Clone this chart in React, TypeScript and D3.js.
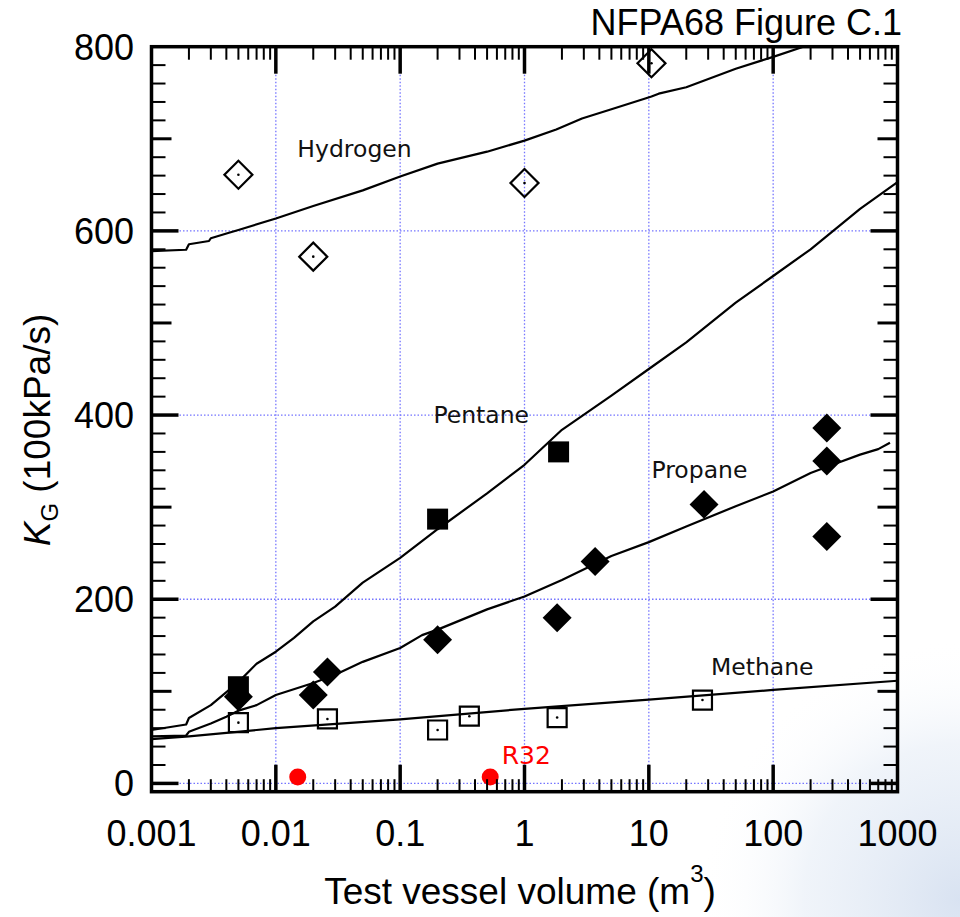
import React from "react";
import * as d3 from "d3";

// ---- Data ----
const xTickValues = [0.001, 0.01, 0.1, 1, 10, 100, 1000];
const xTickLabels = ["0.001", "0.01", "0.1", "1", "10", "100", "1000"];
const yTickValues = [0, 200, 400, 600, 800];
const yTickLabels = ["0", "200", "400", "600", "800"];

// Fitted curves
const hydrogenLineX = [0.001, 0.0019, 0.002, 0.0029, 0.003, 0.0042, 0.005, 0.01, 0.02, 0.05, 0.1, 0.2, 0.5, 1, 1.8, 2.9, 5, 9.5, 10.5, 12, 20, 50, 100, 175];
const hydrogenLineY = [578, 579.5, 585.5, 589, 592, 598, 601, 613.5, 627, 644, 659, 673, 686, 698, 710, 722, 732, 744, 746, 749, 756, 776, 789, 800];

const pentaneLineX = [0.001, 0.0019, 0.002, 0.003, 0.005, 0.007, 0.01, 0.014, 0.02, 0.03, 0.05, 0.1, 0.2, 0.5, 1, 2, 5, 10, 20, 50, 100, 200, 500, 1000];
const pentaneLineY = [58, 64, 71, 85, 110, 130, 143, 158, 176, 192, 218, 245, 276, 315, 346, 384, 421, 450, 479, 522, 551, 580, 624, 653];

const propaneLineX = [0.001, 0.0019, 0.002, 0.003, 0.004, 0.005, 0.007, 0.01, 0.02, 0.03, 0.05, 0.1, 0.15, 0.2, 0.5, 1, 2, 5, 10, 20, 50, 100, 200, 300, 500, 700, 870];
const propaneLineY = [51, 52, 56, 65, 72.5, 79, 85, 96, 109, 118, 132, 147, 161, 167, 189, 203, 221, 247, 262, 279, 301, 317, 337, 346, 357, 363, 370];

const methaneLineX = [0.001, 0.002, 0.01, 0.1, 1, 10, 100, 1000];
const methaneLineY = [48, 51, 60, 69.5, 81, 91, 101.5, 111.5];

// Measured points
const hydrogenX = [0.005, 0.02, 1.0, 10.5];
const hydrogenY = [661, 572, 652, 782];

const pentaneX = [0.005, 0.2, 1.88];
const pentaneY = [105, 287, 360];

const propaneX = [0.005, 0.02, 0.026, 0.2, 1.83, 3.7, 27.8, 270, 270, 270];
const propaneY = [94, 96, 121, 156, 180, 241, 303, 386, 350, 268];

const methaneX = [0.005, 0.026, 0.2, 0.36, 1.83, 27];
const methaneY = [66, 70, 58, 73, 71.5, 90.5];

const r32X = [0.015, 0.53];
const r32Y = [7, 7];

const curveLabelText = ["Hydrogen", "Pentane", "Propane", "Methane"];
const curveLabelX = [0.0149, 0.185, 10.5, 31.6];
const curveLabelY = [680, 391.7, 331.3, 117.7];
const r32LabelX = 0.656;
const r32LabelY = 21;

// ---- Layout ----
const W = 960;
const H = 917;
const left = 151.5;
const right = 897.5;
const top = 46.7;
const bottom = 791.7;

const xScale = d3.scaleLog().domain([0.001, 1000]).range([left, right]);
const yScale = d3.scaleLinear().domain([-9, 800]).range([bottom, top]);

const zip = (xs: number[], ys: number[]) => xs.map((x, i) => [x, ys[i]] as [number, number]);

const lineGen = d3
  .line<[number, number]>()
  .x((d) => xScale(d[0]))
  .y((d) => yScale(d[1]));

const numFont = "'Liberation Sans', Arial, Helvetica, sans-serif";
const labelFont = "'DejaVu Sans', 'Noto Sans', sans-serif";

export default function App() {
  const squareSym = (size: number) => d3.symbol().type(d3.symbolSquare).size(size)() as string;
  const circleSym = (size: number) => d3.symbol().type(d3.symbolCircle).size(size)() as string;

  const minorX: number[] = [];
  for (let e = -3; e <= 2; e++) {
    for (let k = 2; k <= 9; k++) minorX.push(k * Math.pow(10, e));
  }
  const yTicks: number[] = [];
  for (let v = 0; v < 800; v += 20) yTicks.push(v);

  const gridColor = "#7474ff";

  return (
    <svg
      width={W}
      height={H}
      style={{ position: "absolute", left: 0, top: 0, background: "#fff" }}
    >
      <defs>
        <radialGradient id="wm" cx="960" cy="900" r="260" gradientUnits="userSpaceOnUse">
          <stop offset="0" stopColor="#b9cbe6" stopOpacity="0.55" />
          <stop offset="0.6" stopColor="#d4e0f0" stopOpacity="0.35" />
          <stop offset="1" stopColor="#ffffff" stopOpacity="0" />
        </radialGradient>
      </defs>
      <rect x={0} y={0} width={W} height={H} fill="#fff" />
      <rect x={640} y={600} width={320} height={317} fill="url(#wm)" />

      {/* grid */}
      <g stroke={gridColor} strokeWidth={1.3} strokeDasharray="1.5,2">
        {[0.01, 0.1, 1, 10, 100].map((v) => (
          <line key={"gx" + v} x1={xScale(v)} x2={xScale(v)} y1={top} y2={bottom} />
        ))}
        {[0, 200, 400, 600].map((v) => (
          <line key={"gy" + v} x1={left} x2={right} y1={yScale(v)} y2={yScale(v)} />
        ))}
      </g>

      {/* curves */}
      <g fill="none" stroke="#000" strokeWidth={2.2} strokeLinejoin="round">
        <path d={lineGen(zip(hydrogenLineX, hydrogenLineY)) as string} />
        <path d={lineGen(zip(pentaneLineX, pentaneLineY)) as string} />
        <path d={lineGen(zip(propaneLineX, propaneLineY)) as string} />
        <path d={lineGen(zip(methaneLineX, methaneLineY)) as string} />
      </g>

      {/* markers */}
      <g>
        {zip(propaneX, propaneY).map(([x, y], i) => (
          <path key={"pr" + i} d={squareSym(420)} transform={`translate(${xScale(x)},${yScale(y)}) rotate(45)`} fill="#000" />
        ))}
        {zip(pentaneX, pentaneY).map(([x, y], i) => (
          <path key={"pe" + i} d={squareSym(441)} transform={`translate(${xScale(x)},${yScale(y)})`} fill="#000" />
        ))}
        {zip(hydrogenX, hydrogenY).map(([x, y], i) => (
          <g key={"hy" + i} transform={`translate(${xScale(x)},${yScale(y)})`}>
            <path d={squareSym(392)} transform="rotate(45)" fill="none" stroke="#000" strokeWidth={2.2} />
            <circle r={1.3} fill="#000" />
          </g>
        ))}
        {zip(methaneX, methaneY).map(([x, y], i) => (
          <g key={"me" + i} transform={`translate(${xScale(x)},${yScale(y)})`}>
            <path d={squareSym(361)} fill="none" stroke="#000" strokeWidth={2.2} />
            <circle r={1.3} fill="#000" />
          </g>
        ))}
        {zip(r32X, r32Y).map(([x, y], i) => (
          <path key={"r" + i} d={circleSym(Math.PI * 8.5 * 8.5)} transform={`translate(${xScale(x)},${yScale(y)})`} fill="#ff0000" />
        ))}
      </g>

      {/* curve labels */}
      <g fontFamily={labelFont} fontSize={23.5} fill="#111">
        {curveLabelText.map((t, i) => (
          <text key={t} x={xScale(curveLabelX[i])} y={yScale(curveLabelY[i])}>
            {t}
          </text>
        ))}
      </g>
      <text x={xScale(r32LabelX)} y={yScale(r32LabelY)} fontFamily={labelFont} fontSize={25} fill="#ff0000">
        R32
      </text>

      {/* ticks */}
      <g stroke="#000">
        {minorX.map((v) => (
          <g key={"mx" + v} strokeWidth={2}>
            <line x1={xScale(v)} x2={xScale(v)} y1={bottom} y2={bottom - 12.5} />
            <line x1={xScale(v)} x2={xScale(v)} y1={top} y2={top + 13} />
          </g>
        ))}
        {[0.01, 0.1, 1, 10, 100].map((v) => (
          <g key={"Mx" + v} strokeWidth={3.5}>
            <line x1={xScale(v)} x2={xScale(v)} y1={bottom} y2={bottom - 27} />
            <line x1={xScale(v)} x2={xScale(v)} y1={top} y2={top + 27} />
          </g>
        ))}
        {yTicks.map((v) => {
          const len = v % 200 === 0 ? 27 : v % 100 === 0 ? 20 : 14;
          const sw = v % 200 === 0 ? 3.5 : v % 100 === 0 ? 3 : 2;
          return (
            <g key={"yt" + v} strokeWidth={sw}>
              <line x1={left} x2={left + len} y1={yScale(v)} y2={yScale(v)} />
              <line x1={right} x2={right - len} y1={yScale(v)} y2={yScale(v)} />
            </g>
          );
        })}
      </g>

      {/* frame */}
      <rect x={left} y={top} width={right - left} height={bottom - top} fill="none" stroke="#000" strokeWidth={3.5} />

      {/* tick labels */}
      <g fontFamily={numFont} fontSize={36} fill="#000">
        {xTickValues.map((v, i) => (
          <text key={"xl" + v} x={xScale(v)} y={846} textAnchor="middle">
            {xTickLabels[i]}
          </text>
        ))}
        {yTickValues.map((v, i) => (
          <text key={"yl" + v} x={134} y={yScale(v) + 13} textAnchor="end">
            {yTickLabels[i]}
          </text>
        ))}
      </g>

      {/* axis titles */}
      <text x={520} y={904} textAnchor="middle" fontFamily={numFont} fontSize={37} fill="#000">
        Test vessel volume (m
        <tspan fontSize={24} dy={-22}>3</tspan>
        <tspan dy={22}>)</tspan>
      </text>
      <text transform="translate(50,430) rotate(-90)" textAnchor="middle" fontFamily={numFont} fontSize={37} fill="#000">
        <tspan fontStyle="italic">K</tspan>
        <tspan fontSize={24} dy={8}>G</tspan>
        <tspan dy={-8}> (100kPa/s)</tspan>
      </text>

      {/* title */}
      <text x={902} y={35} textAnchor="end" fontFamily={numFont} fontSize={36} fill="#000">
        NFPA68 Figure C.1
      </text>
    </svg>
  );
}
